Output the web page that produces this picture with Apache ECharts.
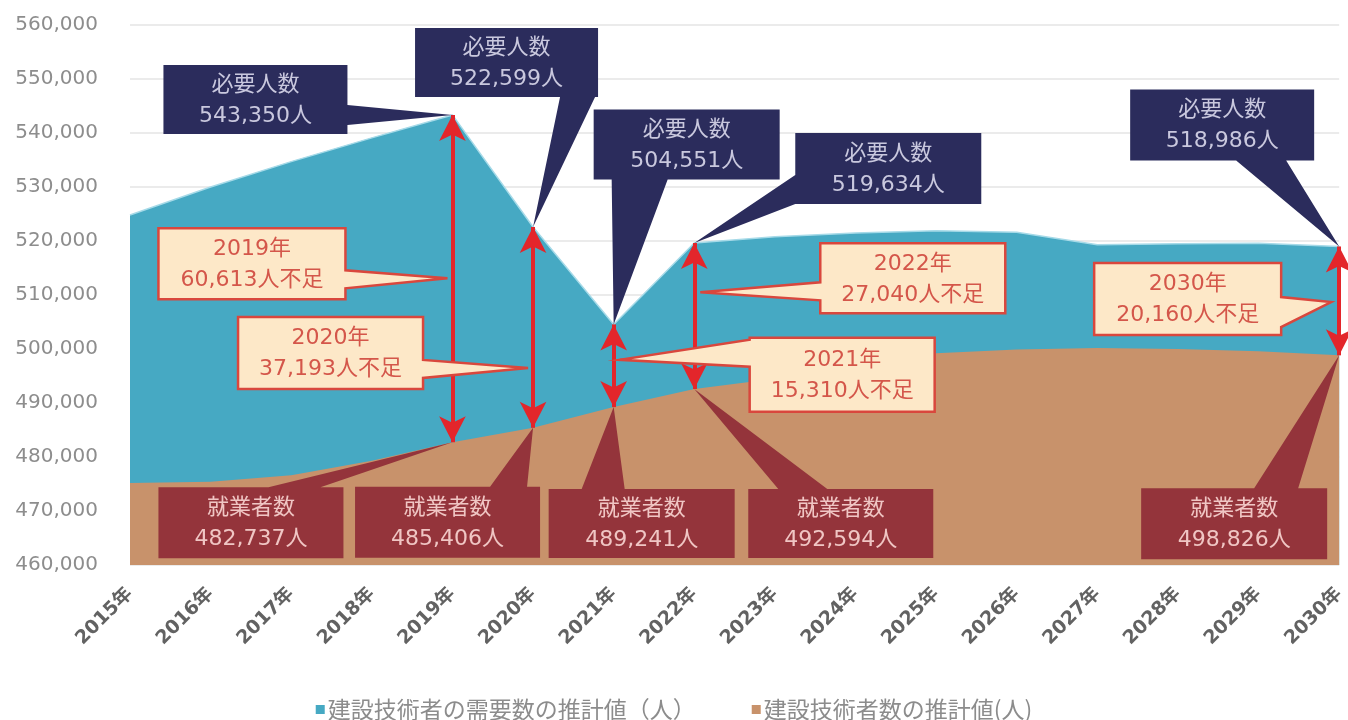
<!DOCTYPE html>
<html><head><meta charset="utf-8">
<script src="https://cdn.jsdelivr.net/npm/echarts@6/dist/echarts.min.js"></script>
<style>html,body{margin:0;padding:0;background:#fff}#c{width:1348px;height:720px}</style>
</head><body><div id="c"></div>
<script>
// ---------- data ----------
const years = ['2015年','2016年','2017年','2018年','2019年','2020年','2021年','2022年','2023年','2024年','2025年','2026年','2027年','2028年','2029年','2030年'];
const demand = [524800, 530000, 534700, 539100, 543350, 522599, 504551, 519634, 520800, 521500, 521900, 521600, 519300, 519500, 519600, 518986];
const supply = [475200, 475400, 476600, 479300, 482737, 485406, 489241, 492594, 494500, 497200, 499200, 499900, 500200, 500000, 499600, 498826];
const demandName = '建設技術者の需要数の推計値（人）';
const supplyName = '建設技術者数の推計値(人)';
const yMin = 460000, yMax = 560000, yStep = 10000;
const markedYears = ['2019年','2020年','2021年','2022年','2030年'];
const gapPointerValues = [513100, 496500, 498000, 510500, 508700];
const needTitle = '必要人数', workTitle = '就業者数', shortTail = '人不足', personUnit = '人';

// ---------- annotation layout (pixel offsets from anchor) ----------
const needLayout = [
  {dx:-289, dy:-50, w:184, h:69, side:'right', b:[[184,40],[184,60]]},
  {dx:-118, dy:-199, w:183, h:69, side:'bottom', b:[[145,69],[180,69]]},
  {dx:-20, dy:-215, w:186, h:70, side:'bottom', b:[[18,70],[74,70]]},
  {dx:101, dy:-110, w:186, h:71, side:'left', b:[[0,42],[0,71]]},
  {dx:-209, dy:-157, w:184, h:71, side:'bottom', b:[[106,71],[156,71]]}
];
const workLayout = [
  {dx:-294, dy:45, w:185, h:71, side:'top', b:[[110,0],[162,0]]},
  {dx:-178, dy:59, w:185, h:71, side:'top', b:[[135,0],[172,0]]},
  {dx:-65, dy:82, w:186, h:69, side:'top', b:[[33,0],[76,0]]},
  {dx:54, dy:100, w:185, h:69, side:'top', b:[[30,0],[79,0]]},
  {dx:-198, dy:133, w:186, h:71, side:'top', b:[[113,0],[157,0]]}
];
const gapLayout = [
  {dx:-294, dy:-50, w:187, h:71, side:'right', b:[[187,42],[187,60]], tx:-5},
  {dx:-295, dy:-51, w:185, h:72, side:'right', b:[[185,43],[185,61]], tx:-5},
  {dx:136, dy:-22, w:185, h:74, side:'left', b:[[0,2],[0,29]], tx:6},
  {dx:126, dy:-49, w:185, h:70, side:'left', b:[[0,39],[0,57]], tx:6},
  {dx:-245, dy:-39, w:187, h:72, side:'right', b:[[187,34],[187,64]], tx:-8}
];

const fmt = v => String(v).replace(/\B(?=(\d{3})+(?!\d))/g, ',');
const FONT = '"DejaVu Sans","Noto Sans CJK JP",sans-serif';
const CJK = '"Noto Sans CJK JP",sans-serif';
const BLUE = '#46a9c3', TAN = '#c8926b', NAVY = '#2b2c5c', MAROON = '#94343b', CREAM = '#fde8c8', RED = '#e3262b', REDLINE = '#d9473d';

const chart = echarts.init(document.getElementById('c'), null, {renderer:'canvas'});
const option = {
  animation: false,
  backgroundColor: '#fff',
  grid: {left:130, right:8, top:25, bottom:155},
  legend: {
    top: 693, left: 'center', itemWidth: 9, itemHeight: 9, itemGap: 56, icon: 'rect',
    data: [demandName, supplyName],
    textStyle: {fontSize: 23, color: '#8c8c8c', fontFamily: CJK, padding:[0,0,0,-2]}
  },
  xAxis: {
    type: 'category', data: years, boundaryGap: false,
    axisLine: {show:false}, axisTick: {show:false},
    axisLabel: {rotate:45, margin:26, fontSize:19, fontWeight:'bold', color:'#626262', fontFamily: FONT, interval:0}
  },
  yAxis: {
    type: 'value', min: yMin, max: yMax, interval: yStep,
    axisLine: {show:false}, axisTick: {show:false},
    axisLabel: {margin: 32, fontSize: 20, color:'#8d8d8d', fontFamily: FONT, formatter: v => fmt(v)},
    splitLine: {lineStyle: {color:'#e4e4e4', width:1.5}}
  },
  series: [
    {name: demandName, type:'line', data: demand, symbol:'none', z:1,
     lineStyle:{width:1.5, color:'#a6dae8'}, itemStyle:{color: BLUE},
     areaStyle:{color: BLUE, opacity:1, origin:'start'}, silent:true},
    {name: supplyName, type:'line', data: supply, symbol:'none', z:2,
     lineStyle:{width:0}, itemStyle:{color: TAN},
     areaStyle:{color: TAN, opacity:1, origin:'start'}, silent:true},
    {name: 'gap', type:'line', data: [], z:10, silent:true,
     markLine: {
       silent:true, symbol:['arrow','arrow'], symbolSize:[20,26],
       label:{show:false}, lineStyle:{color:RED, width:4, type:'solid'},
       emphasis:{disabled:true},
       data: markedYears.map(y => { const i = years.indexOf(y); return [{coord:[y, supply[i]]},{coord:[y, demand[i]]}]; })
     }}
  ]
};
chart.setOption(option);

function shape(box, side, b, tip){
  const {x,y,w,h} = box;
  const TL=[x,y], TR=[x+w,y], BR=[x+w,y+h], BL=[x,y+h];
  const p1=[x+b[0][0], y+b[0][1]], p2=[x+b[1][0], y+b[1][1]];
  if (side==='top') return [TL,p1,tip,p2,TR,BR,BL];
  if (side==='right') return [TL,TR,p1,tip,p2,BR,BL];
  if (side==='bottom') return [TL,TR,BR,p2,tip,p1,BL];
  return [TL,TR,BR,BL,p2,tip,p1];
}
function callout(anchor, L, fill, stroke, textColor, text, z, tipDx){
  const box = {x: anchor[0]+L.dx, y: anchor[1]+L.dy, w: L.w, h: L.h};
  const tip = [anchor[0] + (tipDx||0), anchor[1]];
  return [{
    type:'polygon', z: z, silent:true,
    shape:{points: shape(box, L.side, L.b, tip)},
    style: stroke ? {fill, stroke, lineWidth:2.5, lineJoin:'miter'} : {fill}
  },{
    type:'text', z: z+1, silent:true,
    style:{text, x: box.x + box.w/2, y: box.y + box.h/2 + 1, fill: textColor,
      fontSize: 22, fontFamily: FONT, lineHeight: 31, align:'center', verticalAlign:'middle'}
  }];
}
const g = [];
markedYears.forEach((yr, k) => {
  const i = years.indexOf(yr);
  const aNeed = chart.convertToPixel({seriesIndex:0}, [yr, demand[i]]);
  const aWork = chart.convertToPixel({seriesIndex:0}, [yr, supply[i]]);
  const aGap = chart.convertToPixel({seriesIndex:0}, [yr, gapPointerValues[k]]);
  g.push(...callout(aGap, gapLayout[k], CREAM, REDLINE, '#d4564a',
    yr + '\n' + fmt(demand[i]-supply[i]) + shortTail, 5, gapLayout[k].tx));
  g.push(...callout(aNeed, needLayout[k], NAVY, null, '#c9c8de',
    needTitle + '\n' + fmt(demand[i]) + personUnit, 20, 0));
  g.push(...callout(aWork, workLayout[k], MAROON, null, '#f0c6c4',
    workTitle + '\n' + fmt(supply[i]) + personUnit, 20, 0));
});
chart.setOption({graphic: {elements: g}});
</script>
</body></html>
